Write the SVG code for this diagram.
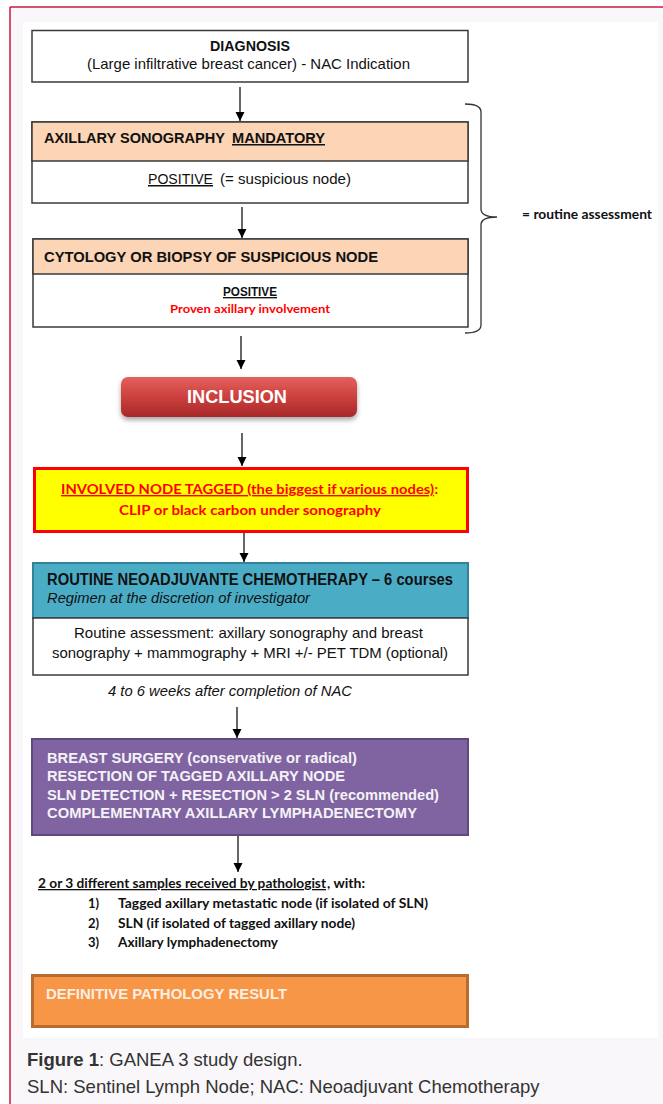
<svg xmlns="http://www.w3.org/2000/svg" width="663" height="1104" viewBox="0 0 663 1104">
<style>
.box{stroke:#3a3a3a;stroke-width:1.5}
.nar{font-family:"Liberation Sans Narrow","Liberation Sans",Arial,sans-serif}
.cal{font-family:Lato,"Open Sans","Liberation Sans",sans-serif}
.b{font-weight:bold}
.i{font-style:italic}
.k{fill:#111}
.u{text-decoration:underline}
.conn line{stroke:#000;stroke-width:1.2}
.cap{font-family:"Liberation Sans",Arial,sans-serif;font-size:18.5px;fill:#333}
</style>
<defs>
<marker id="ah" viewBox="0 0 10 10" refX="10" refY="5" markerWidth="9" markerHeight="10" markerUnits="userSpaceOnUse" orient="auto">
<path d="M0,0 L10,5 L0,10 z" fill="#000"/>
</marker>
<linearGradient id="redg" x1="0" y1="0" x2="0" y2="1">
<stop offset="0" stop-color="#e4605d"/>
<stop offset="0.5" stop-color="#cc403d"/>
<stop offset="1" stop-color="#a8282a"/>
</linearGradient>
<filter id="sh" x="-10%" y="-20%" width="120%" height="160%">
<feDropShadow dx="0" dy="3" stdDeviation="2.5" flood-color="#000" flood-opacity="0.35"/>
</filter>
</defs>

<rect x="0" y="0" width="663" height="1104" fill="#ffffff"/>
<rect x="10" y="7" width="653" height="1097" fill="#f9f7f9"/>
<line x1="10" y1="7" x2="663" y2="7" stroke="#c8173f" stroke-width="1.5"/>
<line x1="10" y1="7" x2="10" y2="1104" stroke="#c8173f" stroke-width="1.5"/>
<rect x="23" y="22" width="635" height="1016" fill="#ffffff"/>

<g id="connectors" class="conn">
<line x1="240" y1="87" x2="240" y2="121" marker-end="url(#ah)"/>
<line x1="242" y1="207" x2="242" y2="238" marker-end="url(#ah)"/>
<line x1="241" y1="336" x2="241" y2="369" marker-end="url(#ah)"/>
<line x1="242" y1="433" x2="242" y2="466" marker-end="url(#ah)"/>
<line x1="244" y1="533" x2="244" y2="562" marker-end="url(#ah)"/>
<line x1="237" y1="707" x2="237" y2="738" marker-end="url(#ah)"/>
<line x1="238" y1="835" x2="238" y2="872" marker-end="url(#ah)"/>
</g>

<g id="diagnosis">
<rect class="box" x="32" y="30.5" width="436" height="51.5" fill="#fff"/>
<text class="nar b k" x="250" y="51" font-size="15" text-anchor="middle" textLength="80" lengthAdjust="spacingAndGlyphs">DIAGNOSIS</text>
<text class="nar k" x="248.5" y="69" font-size="15" text-anchor="middle" textLength="323" lengthAdjust="spacingAndGlyphs">(Large infiltrative breast cancer) - NAC Indication</text>
</g>

<g id="axillary-sonography">
<rect class="box" x="32" y="122" width="436" height="81" fill="#fff"/>
<rect class="box" x="32" y="122" width="436" height="39" fill="#fbd5b5"/>
<text class="nar b k" x="44" y="143" font-size="15" textLength="181" lengthAdjust="spacingAndGlyphs">AXILLARY  SONOGRAPHY</text>
<text class="nar b k u" x="232" y="143" font-size="15" textLength="93" lengthAdjust="spacingAndGlyphs">MANDATORY</text>
<text class="nar k u" x="148" y="184" font-size="15" textLength="65" lengthAdjust="spacingAndGlyphs">POSITIVE</text>
<text class="nar k" x="220" y="184" font-size="15" textLength="131" lengthAdjust="spacingAndGlyphs">(= suspicious node)</text>
</g>

<g id="cytology">
<rect class="box" x="33" y="239" width="435" height="88" fill="#fff"/>
<rect class="box" x="33" y="239" width="435" height="35" fill="#fbd5b5"/>
<text class="nar b k" x="44" y="262" font-size="15" textLength="334" lengthAdjust="spacingAndGlyphs">CYTOLOGY OR BIOPSY OF SUSPICIOUS NODE</text>
<text class="nar b k u" x="250" y="296" font-size="13.5" text-anchor="middle" textLength="54" lengthAdjust="spacingAndGlyphs">POSITIVE</text>
<text class="cal b" x="250" y="313" font-size="12" fill="#ff0000" text-anchor="middle" textLength="160" lengthAdjust="spacingAndGlyphs">Proven axillary involvement</text>
</g>

<g id="routine-brace">
<path d="M465,104 Q481,104 481,112 L481,209 Q481,217 497,217 Q481,217 481,225 L481,325 Q481,333 465,333" fill="none" stroke="#333" stroke-width="1.3"/>
<text class="cal b k" x="522" y="219" font-size="13" textLength="130" lengthAdjust="spacingAndGlyphs">= routine assessment</text>
</g>

<g id="inclusion">
<rect x="121" y="377" width="236" height="40" rx="7" fill="url(#redg)" filter="url(#sh)"/>
<text x="237" y="403" font-family="Liberation Sans,Arial,sans-serif" font-weight="bold" font-size="19" fill="#fff" text-anchor="middle" textLength="100" lengthAdjust="spacingAndGlyphs">INCLUSION</text>
</g>

<g id="node-tagged">
<rect x="34.5" y="468.5" width="433" height="63" fill="#ffff00" stroke="#ff0000" stroke-width="3"/>
<text class="cal b u" x="61" y="494" font-size="14" fill="#ff0000" textLength="373" lengthAdjust="spacingAndGlyphs">INVOLVED NODE TAGGED  (the biggest if various  nodes)</text>
<text class="cal b" x="434.5" y="494" font-size="14" fill="#ff0000">:</text>
<text class="cal b" x="250" y="515" font-size="14" fill="#ff0000" text-anchor="middle" textLength="262" lengthAdjust="spacingAndGlyphs">CLIP or black carbon under sonography</text>
</g>

<g id="chemotherapy">
<rect x="33" y="563" width="435" height="55" fill="#4bacc6" stroke="#31839a" stroke-width="2"/>
<rect class="box" x="33" y="618" width="435" height="57" fill="#fff"/>
<text class="nar b" x="47" y="585" font-size="16" fill="#111" textLength="406" lengthAdjust="spacingAndGlyphs">ROUTINE NEOADJUVANTE CHEMOTHERAPY – 6 courses</text>
<text class="nar i" x="47" y="603" font-size="15" fill="#111" textLength="263" lengthAdjust="spacingAndGlyphs">Regimen at the discretion of investigator</text>
<text class="nar k" x="248.5" y="638" font-size="15" text-anchor="middle" textLength="349" lengthAdjust="spacingAndGlyphs">Routine assessment: axillary sonography and breast</text>
<text class="nar k" x="250" y="658" font-size="15" text-anchor="middle" textLength="396" lengthAdjust="spacingAndGlyphs">sonography + mammography + MRI +/- PET TDM (optional)</text>
</g>

<g id="delay-label">
<text class="nar i k" x="108" y="696" font-size="15" textLength="244" lengthAdjust="spacingAndGlyphs">4 to 6 weeks after completion of NAC</text>
</g>

<g id="surgery">
<rect x="32" y="739" width="436" height="96" fill="#8064a2" stroke="#5e4a7c" stroke-width="2"/>
<text class="nar b" x="47" y="763" font-size="15" fill="#f4f2f7" textLength="310" lengthAdjust="spacingAndGlyphs">BREAST SURGERY (conservative or radical)</text>
<text class="nar b" x="47" y="781" font-size="15" fill="#f4f2f7" textLength="298" lengthAdjust="spacingAndGlyphs">RESECTION OF TAGGED AXILLARY NODE</text>
<text class="nar b" x="47" y="800" font-size="15" fill="#f4f2f7" textLength="392" lengthAdjust="spacingAndGlyphs">SLN DETECTION + RESECTION &gt; 2 SLN (recommended)</text>
<text class="nar b" x="47" y="818" font-size="15" fill="#f4f2f7" textLength="370" lengthAdjust="spacingAndGlyphs">COMPLEMENTARY AXILLARY LYMPHADENECTOMY</text>
</g>

<g id="samples">
<text class="cal b k u" x="38" y="888" font-size="13" textLength="288" lengthAdjust="spacingAndGlyphs">2 or 3 different samples received by pathologist</text>
<text class="cal b k" x="327" y="888" font-size="13" textLength="38" lengthAdjust="spacingAndGlyphs">, with:</text>
<text class="cal b k" x="88" y="908" font-size="13">1)</text>
<text class="cal b k" x="118" y="908" font-size="13" textLength="310" lengthAdjust="spacingAndGlyphs">Tagged axillary metastatic node  (if  isolated of SLN)</text>
<text class="cal b k" x="88" y="928" font-size="13">2)</text>
<text class="cal b k" x="118" y="928" font-size="13" textLength="237" lengthAdjust="spacingAndGlyphs">SLN (if isolated of tagged axillary node)</text>
<text class="cal b k" x="88" y="947" font-size="13">3)</text>
<text class="cal b k" x="118" y="947" font-size="13" textLength="160" lengthAdjust="spacingAndGlyphs">Axillary lymphadenectomy</text>
</g>

<g id="pathology-result">
<rect x="32.5" y="975.5" width="435" height="51" fill="#f79646" stroke="#b96c2f" stroke-width="3"/>
<text class="nar b" x="46" y="999" font-size="15" fill="#fdeee2" textLength="241" lengthAdjust="spacingAndGlyphs">DEFINITIVE PATHOLOGY RESULT</text>
</g>

<g id="caption">
<text class="cap" x="27" y="1066"><tspan font-weight="bold">Figure 1</tspan>: GANEA 3 study design.</text>
<text class="cap" x="27" y="1093">SLN: Sentinel Lymph Node; NAC: Neoadjuvant Chemotherapy</text>
</g>
</svg>
